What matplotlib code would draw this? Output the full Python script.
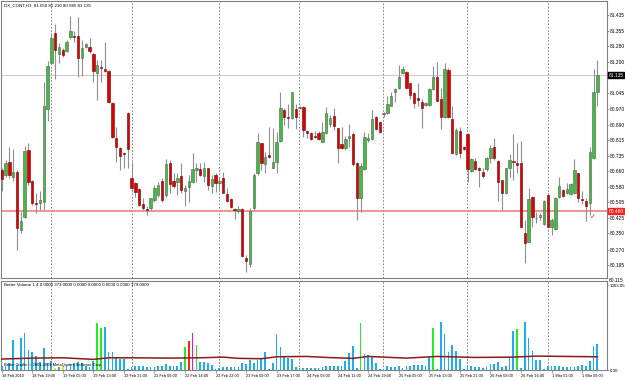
import numpy as np
import matplotlib
matplotlib.use("Agg")
import matplotlib.pyplot as plt
import matplotlib.transforms as mtransforms

plt.rcParams['font.family'] = ['Liberation Sans', 'DejaVu Sans']

# hourly candles, DX_CONT H1, 18 Feb 2010 .. 1 Mar 2010
opens = [80.665, 80.640, 80.705, 80.632, 80.657, 80.367, 80.434, 80.765, 80.611, 80.503,
         80.503, 80.508, 80.968, 81.198, 81.344, 81.241, 81.261, 81.257, 81.327, 81.330,
         81.332, 81.220, 81.277, 81.277, 81.241, 81.148, 81.173, 81.168, 81.157, 81.000,
         80.826, 80.773, 80.748, 80.947, 80.624, 80.599, 80.573, 80.495, 80.470, 80.474,
         80.516, 80.541, 80.611, 80.541, 80.702, 80.611, 80.608, 80.637, 80.561, 80.583,
         80.608, 80.665, 80.670, 80.636, 80.674, 80.588, 80.641, 80.599, 80.627, 80.546,
         80.520, 80.470, 80.462, 80.470, 80.227, 80.199, 80.475, 80.649, 80.798, 80.694,
         80.740, 80.677, 80.704, 80.811, 80.963, 80.930, 80.922, 80.968, 80.975, 80.976,
         80.861, 80.847, 80.834, 80.847, 80.806, 80.847, 80.892, 80.933, 80.872, 80.794,
         80.776, 80.826, 80.842, 80.702, 80.525, 80.669, 80.815, 80.818, 80.930, 80.905,
         80.942, 80.947, 80.985, 81.052, 81.070, 81.148, 81.153, 81.099, 81.049, 81.024,
         81.005, 80.988, 80.988, 81.067, 81.125, 81.016, 80.930, 81.162, 80.920, 80.745,
         80.859, 80.781, 80.842, 80.662, 80.712, 80.677, 80.657, 80.669, 80.723, 80.781,
         80.710, 80.613, 80.550, 80.674, 80.710, 80.699, 80.699, 80.351, 80.310, 80.533,
         80.425, 80.430, 80.397, 80.541, 80.384, 80.371, 80.533, 80.566, 80.550, 80.546,
         80.550, 80.652, 80.520, 80.512, 80.500, 80.723, 81.050]
highs = [80.675, 80.715, 80.780, 80.770, 80.665, 80.459, 80.786, 80.798, 80.616, 80.550,
         80.560, 81.104, 81.206, 81.344, 81.390, 81.294, 81.270, 81.310, 81.430, 81.355,
         81.426, 81.311, 81.294, 81.322, 81.244, 81.211, 81.211, 81.302, 81.162, 81.005,
         80.880, 80.781, 80.755, 80.955, 80.707, 80.608, 80.575, 80.525, 80.484, 80.528,
         80.591, 80.608, 80.624, 80.720, 80.715, 80.652, 80.649, 80.702, 80.591, 80.641,
         80.751, 80.699, 80.702, 80.704, 80.677, 80.641, 80.649, 80.632, 80.657, 80.575,
         80.525, 80.475, 80.484, 80.475, 80.243, 80.475, 80.649, 80.851, 80.801, 80.756,
         80.880, 80.872, 80.856, 81.054, 80.971, 80.991, 81.054, 80.991, 80.985, 80.983,
         80.864, 80.856, 80.859, 80.859, 80.902, 80.976, 80.938, 80.971, 80.875, 80.880,
         80.836, 80.894, 80.856, 80.707, 80.699, 80.856, 80.851, 80.963, 80.935, 80.909,
         80.955, 81.033, 81.054, 81.074, 81.186, 81.181, 81.157, 81.099, 81.054, 81.095,
         81.016, 81.005, 81.074, 81.183, 81.200, 81.071, 81.195, 81.170, 80.983, 80.872,
         80.877, 80.785, 80.847, 80.727, 80.727, 80.682, 80.674, 80.728, 80.789, 80.822,
         80.715, 80.616, 80.677, 80.745, 80.842, 80.798, 80.809, 80.417, 80.574, 80.536,
         80.459, 80.450, 80.517, 80.550, 80.425, 80.533, 80.632, 80.571, 80.603, 80.599,
         80.720, 80.652, 80.561, 80.525, 80.781, 81.167, 81.210]
lows = [80.560, 80.630, 80.625, 80.610, 80.268, 80.351, 80.426, 80.591, 80.490, 80.450,
        80.467, 80.467, 80.910, 81.195, 81.115, 81.195, 81.228, 81.253, 81.314, 81.300,
        81.129, 81.132, 81.269, 81.244, 81.104, 81.013, 81.104, 81.153, 80.996, 80.823,
        80.704, 80.665, 80.674, 80.674, 80.558, 80.533, 80.487, 80.467, 80.442, 80.467,
        80.508, 80.533, 80.508, 80.533, 80.550, 80.575, 80.541, 80.550, 80.484, 80.508,
        80.599, 80.608, 80.636, 80.608, 80.566, 80.550, 80.558, 80.566, 80.550, 80.508,
        80.475, 80.422, 80.450, 80.235, 80.161, 80.186, 80.467, 80.641, 80.665, 80.652,
        80.727, 80.674, 80.649, 80.803, 80.889, 80.872, 80.918, 80.867, 80.970, 80.831,
        80.823, 80.814, 80.826, 80.814, 80.803, 80.842, 80.880, 80.864, 80.698, 80.770,
        80.765, 80.781, 80.687, 80.417, 80.459, 80.665, 80.806, 80.814, 80.864, 80.851,
        80.930, 80.942, 80.983, 81.005, 81.066, 81.140, 81.071, 81.016, 80.975, 80.983,
        80.872, 80.983, 80.985, 81.062, 81.009, 80.869, 80.922, 80.922, 80.745, 80.740,
        80.723, 80.765, 80.608, 80.657, 80.665, 80.583, 80.624, 80.660, 80.702, 80.715,
        80.511, 80.467, 80.545, 80.632, 80.616, 80.649, 80.376, 80.202, 80.306, 80.384,
        80.404, 80.417, 80.392, 80.381, 80.343, 80.368, 80.528, 80.533, 80.546, 80.541,
        80.545, 80.508, 80.495, 80.412, 80.442, 80.718, 80.985]
closes = [80.620, 80.700, 80.640, 80.654, 80.379, 80.414, 80.761, 80.607, 80.503, 80.495,
          80.517, 80.983, 81.183, 81.319, 81.261, 81.277, 81.236, 81.299, 81.355, 81.325,
          81.220, 81.269, 81.289, 81.258, 81.158, 81.186, 81.170, 81.158, 81.005, 80.829,
          80.781, 80.737, 80.745, 80.770, 80.575, 80.558, 80.492, 80.475, 80.468, 80.525,
          80.578, 80.591, 80.517, 80.694, 80.594, 80.588, 80.627, 80.566, 80.578, 80.611,
          80.670, 80.677, 80.641, 80.677, 80.591, 80.621, 80.603, 80.611, 80.553, 80.512,
          80.479, 80.468, 80.470, 80.239, 80.215, 80.462, 80.641, 80.806, 80.702, 80.732,
          80.728, 80.707, 80.806, 80.975, 80.927, 80.925, 81.051, 80.927, 80.980, 80.864,
          80.851, 80.819, 80.831, 80.818, 80.856, 80.950, 80.922, 80.884, 80.776, 80.776,
          80.819, 80.836, 80.695, 80.528, 80.687, 80.831, 80.822, 80.918, 80.867, 80.852,
          80.943, 80.993, 81.033, 81.066, 81.125, 81.165, 81.074, 81.038, 80.996, 81.013,
          80.971, 80.996, 81.066, 81.125, 81.009, 80.930, 81.165, 80.927, 80.748, 80.864,
          80.751, 80.768, 80.669, 80.720, 80.670, 80.665, 80.637, 80.723, 80.776, 80.723,
          80.608, 80.553, 80.674, 80.715, 80.704, 80.690, 80.384, 80.305, 80.521, 80.430,
          80.426, 80.442, 80.512, 80.384, 80.417, 80.528, 80.588, 80.538, 80.571, 80.596,
          80.665, 80.525, 80.517, 80.488, 80.756, 81.051, 81.135]

# better volume histogram
volumes = [51, 43, 83, 354, 59, 385, 436, 240, 216, 169,
           98, 259, 83, 110, 24, 31, 43, 51, 71, 83,
           90, 83, 43, 31, 110, 554, 495, 515, 208, 208,
           149, 130, 130, 12, 31, 43, 43, 43, 39, 31,
           31, 43, 51, 71, 43, 43, 43, 98, 267, 346,
           436, 295, 98, 98, 83, 63, 12, 20, 31, 31,
           31, 31, 39, 83, 71, 122, 83, 122, 138, 216,
           12, 83, 424, 267, 169, 138, 130, 31, 20, 20,
           20, 24, 20, 20, 31, 43, 51, 51, 51, 43,
           110, 200, 287, 20, 562, 189, 177, 161, 83, 12,
           12, 43, 31, 39, 51, 20, 43, 51, 59, 59,
           59, 43, 157, 495, 12, 570, 424, 208, 299, 228,
           130, 12, 59, 43, 31, 31, 20, 39, 71, 71,
           98, 31, 51, 149, 464, 491, 20, 570, 377, 228,
           118, 118, 12, 43, 51, 51, 43, 39, 39, 31,
           31, 51, 59, 51, 110, 279, 303]
churn_bars = [25, 26, 48, 51, 94, 113, 135]   # green
climax_bars = [49]                            # red
climax_churn_bars = [50]                      # magenta
low_vol_bars = [14, 16]                       # yellow

# average line of the volume window, read at a few bars
avg_bars = [0, 8, 16, 24, 28, 34, 44, 52, 58, 62, 68, 72, 80, 85, 92, 96, 106, 114, 124, 134, 140, 148, 156]
avg_vals = [130, 141, 145, 126, 145, 145, 141, 145, 153, 138, 134, 157, 161, 149, 138, 161, 141, 161, 149, 153, 165, 161, 157]

time_labels = ["18 Feb 2010", "18 Feb 19:00", "19 Feb 05:00", "19 Feb 13:00", "19 Feb 21:00",
               "22 Feb 06:00", "22 Feb 14:00", "22 Feb 22:00", "23 Feb 09:00", "23 Feb 17:00",
               "24 Feb 03:00", "24 Feb 11:00", "24 Feb 19:00", "25 Feb 05:00", "25 Feb 13:00",
               "25 Feb 21:00", "26 Feb 08:00", "26 Feb 16:00", "1 Mar 01:00", "1 Mar 09:00"]
price_ticks = [81.435, 81.355, 81.280, 81.200, 81.045, 80.970, 80.890, 80.815, 80.735,
               80.660, 80.580, 80.505, 80.425, 80.350, 80.270, 80.195]
last_price = 81.135
level_price = 80.460

W, H = 625, 381
FS_Y = 3.5     # price scale labels
FS_X = 2.8     # time scale labels
FS_T = 3.2     # panel captions
GRID_BARS = [12.9, 34.1, 56.9, 77.9, 99.9, 121.9, 143.1]


def px_rect(x0, y0, x1, y1):
    # pixel box (top-left origin) -> figure fraction
    return [x0 / W, 1 - y1 / H, (x1 - x0) / W, (y1 - y0) / H]


def style_frame(a):
    for s in a.spines.values():
        s.set_color('#808080')
        s.set_linewidth(0.8)


def main():
    fig = plt.figure(figsize=(W / 100, H / 100), dpi=100)
    ax = fig.add_axes(px_rect(1, 1, 606.5, 278))
    axv = fig.add_axes(px_rect(1, 280.5, 606.5, 370))

    o = np.array(opens)
    h = np.array(highs)
    l = np.array(lows)
    c = np.array(closes)
    x = np.arange(len(o))

    # candles
    ax.vlines(x, l, h, color='#8f8f8f', lw=0.8, zorder=2)
    up = c >= o
    body_lo = np.minimum(o, c)
    body_h = np.maximum(np.abs(c - o), 0.004)
    ax.bar(x, body_h, bottom=body_lo, width=0.62,
           color=np.where(up, '#3dbf3d', '#e00000'),
           edgecolor=np.where(up, '#5a5a5a', '#6b0000'), linewidth=0.4, zorder=3)

    ax.axhline(last_price, color='#cccccc', lw=0.8, zorder=1)
    ax.axhline(level_price, color='#f08080', lw=1.2, zorder=1)
    for g in GRID_BARS:
        ax.axvline(g, color='#707070', lw=0.6, ls=(0, (2, 2)), zorder=0)
        axv.axvline(g, color='#707070', lw=0.6, ls=(0, (2, 2)), zorder=0)

    ax.set_xlim(-0.18, 158.4)
    ax.set_ylim(80.129, 81.504)
    ax.set_xticks([])
    ax.yaxis.tick_right()
    ax.set_yticks(price_ticks)
    ax.set_yticklabels(['%.3f' % p for p in price_ticks])
    ax.tick_params(axis='y', length=1.5, width=0.5, color='#808080', labelsize=FS_Y, pad=0.8)
    style_frame(ax)

    trans = mtransforms.blended_transform_factory(ax.transAxes, ax.transData)
    ax.text(1.0035, last_price, '%.3f' % last_price, transform=trans, fontsize=FS_Y, color='white',
            va='center', ha='left', clip_on=False, zorder=10,
            bbox=dict(boxstyle='square,pad=0.1', fc='black', ec='black'))
    ax.text(1.0035, level_price, '%.3f' % level_price, transform=trans, fontsize=FS_Y, color='white',
            va='center', ha='left', clip_on=False, zorder=10,
            bbox=dict(boxstyle='square,pad=0.1', fc='#ff2020', ec='#ff2020'))
    ax.text(1.0045, 80.115, '80.115', transform=trans, fontsize=FS_Y, va='center', ha='left',
            clip_on=False)
    ax.text(0.005, 0.99, 'DX_CONT,H1  %.3f %.3f %.3f %.3f' % (o[-1], h[-1], l[-1], c[-1]),
            transform=ax.transAxes, fontsize=FS_T, va='top', ha='left')
    # closed order mark
    ax.text(len(o) - 2.1, 80.427, '\u2713', color='red', fontsize=5, ha='center', va='center')

    # volume panel
    cols = ['#1eaef0'] * len(volumes)
    for i in churn_bars:
        cols[i] = '#22ee22'
    for i in climax_bars:
        cols[i] = '#ff2020'
    for i in climax_churn_bars:
        cols[i] = '#ff00ff'
    for i in low_vol_bars:
        cols[i] = '#e8e800'
    axv.bar(x, volumes, width=0.45, color=cols, zorder=2)
    axv.plot(avg_bars, avg_vals, color='#8b1a1a', lw=1.1, zorder=3)

    axv.set_xlim(-0.18, 158.4)
    axv.set_ylim(0, 1062)
    axv.yaxis.tick_right()
    axv.set_yticks([0, 1003.05])
    axv.set_yticklabels(['0.00', '1003.05'])
    axv.tick_params(axis='y', length=1.5, width=0.5, color='#808080', labelsize=3.2, pad=0.8)
    axv.set_xticks(x[::8])
    axv.set_xticklabels(time_labels, ha='left')
    axv.tick_params(axis='x', length=2, width=0.5, color='#808080', labelsize=FS_X, pad=1.2)
    style_frame(axv)

    axv.text(0.005, 0.97, 'Better Volume 1.4 0.0000 373.0000 0.0000 0.0000 0.0000 0.0000 179.0000',
             transform=axv.transAxes, fontsize=FS_T, va='top', ha='left')
    axv.text(0.005, 0.03, 'Better Trader \u00a9 2001-2009 MetaQuotes Software Corp.',
             transform=axv.transAxes, fontsize=2.9, va='bottom', ha='left', zorder=5)

    fig.savefig('out.png', dpi=100)


if __name__ == '__main__':
    main()
